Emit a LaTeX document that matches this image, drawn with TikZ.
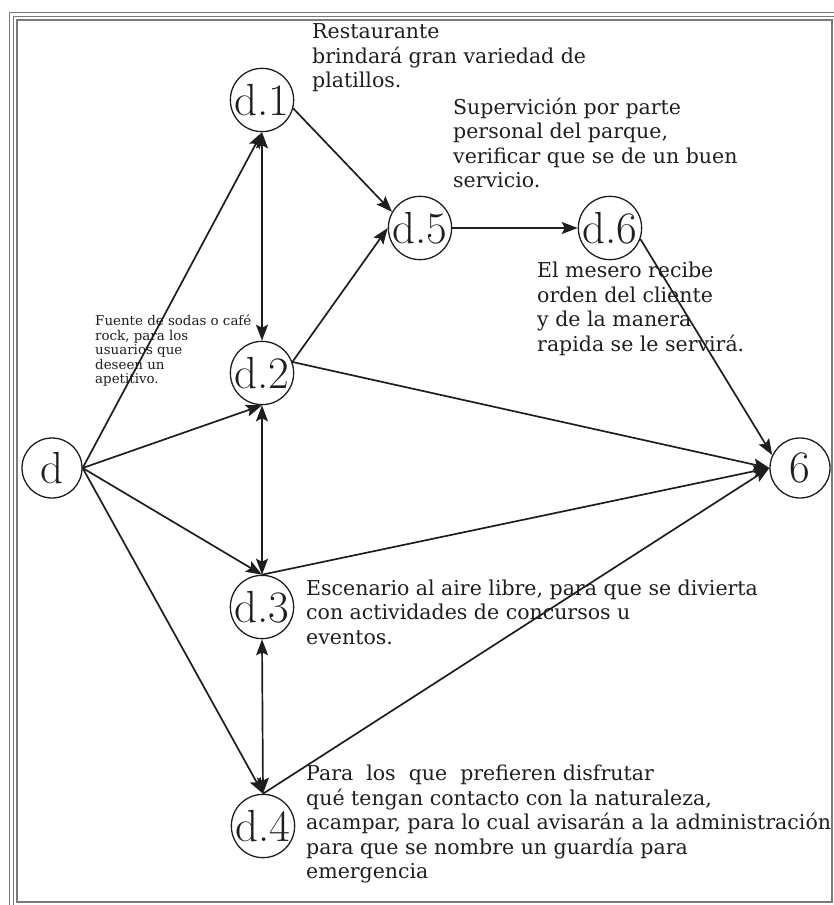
\documentclass[tikz,border=0pt]{standalone}
\usepackage{fontspec}
\newfontfamily\notefont{DejaVu Serif}
\usetikzlibrary{arrows.meta}
\definecolor{ink}{HTML}{1E1E1E}
\definecolor{framegray}{HTML}{7A7A7A}
\begin{document}
\begin{tikzpicture}[x=1pt,y=-1pt,
  state/.style={circle,draw=ink,line width=1.3pt,minimum size=60pt,inner sep=0pt,
    text=ink,font=\fontsize{45}{45}\selectfont},
  tip/.tip={Stealth[length=16pt,width=12pt,inset=3pt]},
  link/.style={draw=ink,line width=1.7pt,-tip},
  twoway/.style={draw=ink,line width=1.7pt,tip-tip},
  note/.style={anchor=west,align=left,inner sep=0pt,text=ink,
    font=\notefont\fontsize{20.5}{24.5}\selectfont},
  smallnote/.style={note,font=\notefont\fontsize{13.4}{14.5}\selectfont},
  frameline/.style={draw=framegray,line width=1pt}]
\useasboundingbox (0,0) rectangle (834,905);
\clip (0,0) rectangle (834,905);

% triple page frame
\draw[frameline] (9,12) rectangle (850,921);
\draw[frameline] (13,16) rectangle (846,917);
\draw[frameline,line width=1.8pt] (17,20) rectangle (832,902);

% states
\node[state] (d)   at (52,468)  {d};
\node[state] (d1)  at (262,100) {d.1};
\node[state] (d2)  at (262,373) {d.2};
\node[state] (d3)  at (262,607) {d.3};
\node[state] (d4)  at (263,826) {d.4};
\node[state] (d5)  at (420,228) {d.5};
\node[state] (d6)  at (610,228) {d.6};
\node[state] (six) at (800,468) {6};

% descriptions
\node[note] (t1) at (312,58) {Restaurante\\brindará gran variedad de\\platillos.};
\node[note] (t5) at (453,143) {Supervición por parte\\personal del parque,\\verificar que se de un buen\\servicio.};
\node[note] (t6) at (537,309) {El mesero recibe\\orden del cliente\\y de la manera\\rapida se le servirá.};
\node[smallnote] (t2) at (95,351) {Fuente de sodas o café\\rock, para los\\usuarios que\\deseen un\\apetitivo.};
\node[note] (t3) at (306,612) {Escenario al aire libre, para que se divierta\\con actividades de concursos u\\eventos.};
\node[note] (t4) at (306,824) {Para~ los~ que~ prefieren disfrutar\\qué tengan contacto con la naturaleza,\\acampar, para lo cual avisarán a la administración\\para que se nombre un guardía para\\emergencia};

% connectors
\draw[link] (d.east) -- (d1.south);
\draw[link] (d.east) -- (d2.south);
\draw[link] (d.east) -- (d3.north);
\draw[link] (d.east) -- (d4.north);
\draw[twoway] (d1.south) -- (d2.north);
\draw[twoway] (d2.south) -- (d3.north);
\draw[twoway] (d3.south) -- (d4.north);
\draw[link] (d1.-15) -- (d5.150);
\draw[link] (d2.20) -- (d5.west);
\draw[link] (d5.east) -- (d6.west);
\draw[link] (d6.-20) -- (six.155);
\draw[link] (d2.20) -- (six.west);
\draw[link] (d3.north) -- (six.west);
\draw[link] (d4.north) -- (six.west);
\end{tikzpicture}
\end{document}
